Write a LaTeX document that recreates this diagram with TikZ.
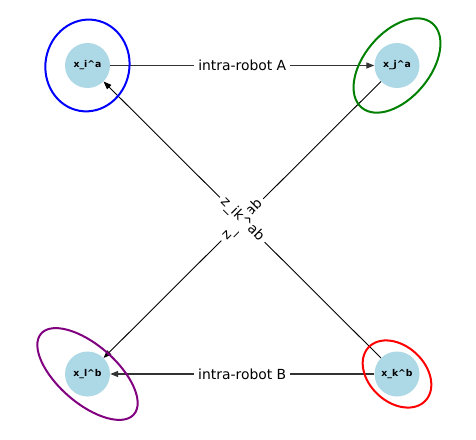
\documentclass[tikz,border=0pt]{standalone}
\usepackage{fontspec}
\setmainfont{DejaVu Sans}
\usetikzlibrary{arrows.meta}
\definecolor{poseblue}{RGB}{173,216,230}
\definecolor{darkgreen}{RGB}{0,128,0}
\definecolor{darkpurple}{RGB}{128,0,128}
\begin{document}
\begin{tikzpicture}[x=1pt,y=1pt,
pose/.style={circle,fill=poseblue,minimum size=45pt,inner sep=0pt,font=\fontsize{9.3}{11}\selectfont\bfseries},
intra/.style={draw=black!80,line width=1.3pt,-{Triangle[length=8pt,width=6pt]}},
inter/.style={draw=black,line width=0.9pt,-{Triangle[length=8pt,width=6pt]}},
lbl/.style={fill=white,inner sep=4pt,font=\fontsize{13.9}{16}\selectfont},
cov/.style={line width=2pt}]
\useasboundingbox (0,0) rectangle (476,439);
\node (xi) at (87.5,373.5) [pose] {x\_i\textasciicircum a};
\node (xj) at (397,373.5) [pose] {x\_j\textasciicircum a};
\node (xl) at (87.5,65) [pose] {x\_l\textasciicircum b};
\node (xk) at (397,65) [pose] {x\_k\textasciicircum b};
\draw[intra] (xi) -- node[lbl] {intra-robot A} (xj);
\draw[intra] (xk) -- node[lbl] {intra-robot B} (xl);
\draw[inter] (xj) -- node[lbl,sloped] {z\_jl\textasciicircum ab} (xl);
\draw[inter] (xk) -- node[lbl,sloped] {z\_ik\textasciicircum ab} (xi);
\draw[cov,blue,rotate around={80:(xi.center)}] (xi.center) ellipse (46pt and 42pt);
\draw[cov,darkgreen,rotate around={50:(xj.center)}] (xj.center) ellipse (55pt and 33pt);
\draw[cov,darkpurple,rotate around={-41:(xl.center)}] (xl.center) ellipse (61.5pt and 29pt);
\draw[cov,red,rotate around={-43:(xk.center)}] (xk.center) ellipse (39pt and 28pt);
\end{tikzpicture}
\end{document}
